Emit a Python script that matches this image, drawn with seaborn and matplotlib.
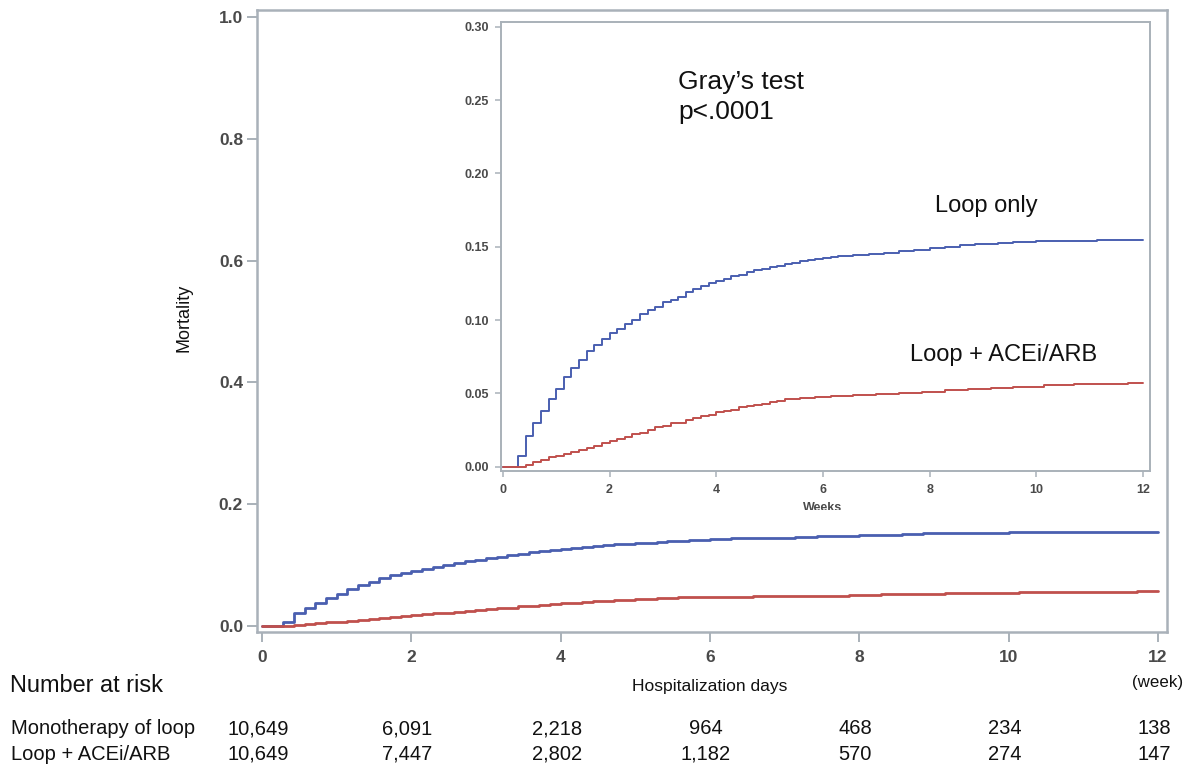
import numpy as np
import pandas as pd
import matplotlib
matplotlib.use("Agg")
import matplotlib.pyplot as plt
from matplotlib.patches import Rectangle
import seaborn as sns

# ---------------- data ----------------
loop_days = [0, 2, 3, 4, 5, 6, 7, 8, 9, 10, 11, 12, 13, 14, 15, 16, 17, 18, 19, 20,
             21, 22, 23, 24, 25, 26, 27, 28, 29, 30, 31, 32, 33, 34, 35, 36, 37, 38,
             39, 40, 41, 42, 43, 44, 46, 48, 50, 52, 54, 56, 58, 60, 62, 65, 67, 70, 78, 84]
loop_vals = [0, 0.0073, 0.021, 0.030, 0.038, 0.046, 0.053, 0.061, 0.067, 0.073, 0.079,
             0.083, 0.087, 0.091, 0.094, 0.097, 0.100, 0.104, 0.107, 0.109, 0.112,
             0.114, 0.116, 0.119, 0.121, 0.123, 0.125, 0.1265, 0.128, 0.130, 0.131,
             0.133, 0.134, 0.135, 0.136, 0.137, 0.138, 0.139, 0.140, 0.141, 0.1415,
             0.142, 0.143, 0.144,
             0.1445, 0.145, 0.146, 0.147, 0.148, 0.149, 0.150, 0.151, 0.152, 0.1525,
             0.153, 0.1536, 0.1545, 0.1545]

acei_days = [0, 3, 4, 5, 6, 7, 8, 9, 10, 11, 12, 13, 14, 15, 16, 17, 18, 19, 20, 21,
             22, 23, 24, 25, 26, 27, 28, 29, 30, 31, 32, 33, 34, 35, 36, 37,
             39, 41, 43, 46, 49, 52, 55, 58, 61, 64, 67, 71, 75, 82, 84]
acei_vals = [0, 0.0014, 0.003, 0.0045, 0.0064, 0.0073, 0.0086, 0.010, 0.0114, 0.0127,
             0.014, 0.016, 0.0177, 0.019, 0.0205, 0.022, 0.023, 0.025, 0.027, 0.028,
             0.0295, 0.030, 0.032, 0.033, 0.0345, 0.0355, 0.037, 0.038, 0.039, 0.0405,
             0.0414, 0.042, 0.043, 0.044, 0.045, 0.046,
             0.047, 0.0473, 0.048, 0.0486, 0.0495, 0.050, 0.051, 0.052, 0.053, 0.054,
             0.0545, 0.0555, 0.0564, 0.057, 0.057]

groups = ["Loop only", "Loop + ACEi/ARB"]
risk_weeks = [0, 2, 4, 6, 8, 10, 12]
risk_rows = ["Monotherapy of loop", "Loop + ACEi/ARB"]
risk_mono = ["10,649", "6,091", "2,218", "964", "468", "234", "138"]
risk_acei = ["10,649", "7,447", "2,802", "1,182", "570", "274", "147"]

main_yticks = [0.0, 0.2, 0.4, 0.6, 0.8, 1.0]
inset_yticks = [0.00, 0.05, 0.10, 0.15, 0.20, 0.25, 0.30]
xticks = [0, 2, 4, 6, 8, 10, 12]

df = pd.concat([
    pd.DataFrame({"week": np.array(loop_days) / 7.0, "mort": loop_vals, "group": groups[0]}),
    pd.DataFrame({"week": np.array(acei_days) / 7.0, "mort": acei_vals, "group": groups[1]}),
], ignore_index=True)

# ---------------- style ----------------
sns.set_style("white")
plt.rcParams["font.family"] = ["Liberation Sans", "DejaVu Sans"]
palette = {groups[0]: "#4a5fb0", groups[1]: "#c0504d"}
spine_col = "#a9b1b9"
tick_col = "#4a4a4a"
tick_font = ["Liberation Sans Narrow", "Liberation Sans", "DejaVu Sans"]
txt_col = "#111111"

W, H = 1192, 771
fig = plt.figure(figsize=(W / 100, H / 100), dpi=100)

def fx(px):
    return px / W

def fy(py):
    return 1 - py / H

# main axes
ax = fig.add_axes([fx(257), fy(632), fx(1167) - fx(257), fy(10) - fy(632)])
sns.lineplot(data=df, x="week", y="mort", hue="group", palette=palette,
             drawstyle="steps-post", estimator=None, sort=False, lw=2.0,
             legend=False, ax=ax)
ax.set_xlim(-0.067, 12.12)
ax.set_ylim(-0.0099, 1.0115)
ax.set_xticks(xticks)
ax.set_yticks(main_yticks)
ax.set_xticklabels([str(t) for t in xticks])
ax.set_yticklabels([f"{t:.1f}" for t in main_yticks])
ax.set_xlabel("")
ax.set_ylabel("")
for s in ax.spines.values():
    s.set_color(spine_col)
    s.set_linewidth(1.8)
ax.tick_params(axis="both", bottom=True, left=True, length=7, width=1.4, color=spine_col,
               labelcolor=tick_col, labelsize=12.5, direction="out")
ax.tick_params(axis="x", pad=6)
ax.tick_params(axis="y", pad=3)
for lab in ax.get_xticklabels() + ax.get_yticklabels():
    lab.set_fontfamily(tick_font)
    lab.set_fontweight("bold")

# inset axes
ins = fig.add_axes([fx(500.7), fy(471), fx(1150) - fx(500.7), fy(21.7) - fy(471)])
ins.set_facecolor("white")
sns.lineplot(data=df, x="week", y="mort", hue="group", palette=palette,
             drawstyle="steps-post", estimator=None, sort=False, lw=1.4,
             legend=False, ax=ins)
ins.set_xlim(-0.04, 12.13)
ins.set_ylim(-0.0029, 0.3034)
ins.set_xticks(xticks)
ins.set_yticks(inset_yticks)
ins.set_xticklabels([str(t) for t in xticks])
ins.set_yticklabels([f"{t:.2f}" for t in inset_yticks])
ins.set_xlabel("")
ins.set_ylabel("")
for s in ins.spines.values():
    s.set_color(spine_col)
    s.set_linewidth(1.4)
ins.tick_params(axis="both", bottom=True, left=True, length=4.5, width=1.1, color=spine_col,
                labelcolor=tick_col, labelsize=9, direction="out")
ins.tick_params(axis="x", pad=5)
ins.tick_params(axis="y", pad=4)
for lab in ins.get_xticklabels() + ins.get_yticklabels():
    lab.set_fontfamily(tick_font)
    lab.set_fontweight("bold")

# "Weeks" label of the inset, cut off at its lower half in the original
fig.text(fx(823), fy(508), "Weeks", ha="center", va="center", fontsize=9,
         fontweight="bold", color=tick_col, family=tick_font, zorder=5)
fig.patches.append(Rectangle((fx(780), fy(520)), fx(90), fy(510.5) - fy(520),
                             transform=fig.transFigure, facecolor="white",
                             edgecolor="none", zorder=6))

# inset annotations
fig.text(fx(678), fy(82), "Gray\u2019s test", ha="left", va="center", fontsize=19, color=txt_col)
fig.text(fx(678), fy(112), "p<.0001", ha="left", va="center", fontsize=19, color=txt_col)
fig.text(fx(935), fy(206), "Loop only", ha="left", va="center", fontsize=17, color=txt_col)
fig.text(fx(910), fy(355), "Loop + ACEi/ARB", ha="left", va="center", fontsize=17, color=txt_col)

# axis titles
fig.text(fx(184), fy(318), "Mortality", rotation=90, ha="center", va="center",
         fontsize=13, color=txt_col)
fig.text(fx(710), fy(687), "Hospitalization days", ha="center", va="center",
         fontsize=12.6, color=txt_col)
fig.text(fx(1158), fy(682), "(week)", ha="center", va="center", fontsize=12.2, color=txt_col)

# number at risk table
fig.text(fx(10), fy(686), "Number at risk", ha="left", va="center", fontsize=16.9, color=txt_col)
for row_y, name, vals in [(729, risk_rows[0], risk_mono), (754, risk_rows[1], risk_acei)]:
    fig.text(fx(11), fy(row_y), name, ha="left", va="center", fontsize=14.5, color=txt_col)
    for wkv, v in zip(risk_weeks, vals):
        xd = ax.transData.transform((wkv, 0))[0]
        fig.text(xd / W - fx(4), fy(row_y), v, ha="center", va="center", fontsize=14.5,
                 color=txt_col)

fig.savefig("out.png", dpi=100)
